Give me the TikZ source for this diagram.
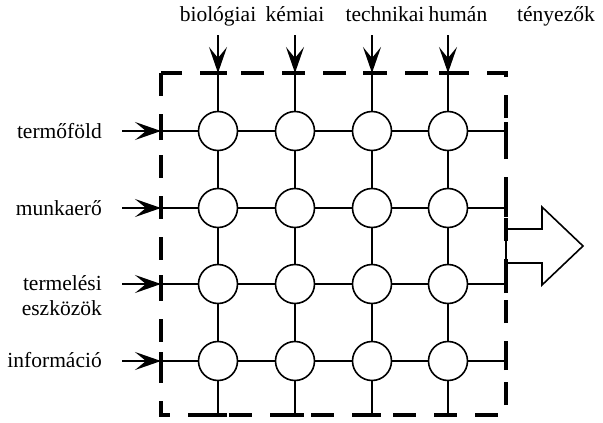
\documentclass[tikz,border=0pt]{standalone}
\usepackage{fontspec}
\setmainfont{Liberation Serif}
\usetikzlibrary{arrows.meta}
\begin{document}
\begin{tikzpicture}[x=1pt,y=-1pt,
  thin line/.style={line width=1.6pt},
  node circ/.style={circle,draw,line width=1.6pt,minimum size=39pt,inner sep=0pt},
  in arrow/.style={line width=1.8pt,-{Stealth[length=26pt,width=18pt,inset=11pt]}},
  frame/.style={line width=4pt,dash pattern=on 23pt off 18pt},
  tick/.style={line width=4pt},
  lbl/.style={font=\fontsize{21.5}{25}\selectfont,inner sep=0pt}]
\useasboundingbox (0,0) rectangle (603,423);
% grid coordinates
\foreach \c/\x in {1/218,2/295,3/372,4/448}{
  \coordinate (t\c) at (\x,73);
  \coordinate (b\c) at (\x,415);
  \coordinate (a\c) at (\x,35);
}
\foreach \r/\y in {1/131,2/208,3/284,4/361}{
  \coordinate (l\r) at (161,\y);
  \coordinate (r\r) at (506,\y);
  \coordinate (s\r) at (122,\y);
}
% circles
\foreach \r/\y in {1/131,2/208,3/284,4/361}{
  \foreach \c/\x in {1/218,2/295,3/372,4/448}{
    \node[node circ] (c\r\c) at (\x,\y) {};
  }
}
% vertical lines
\foreach \c in {1,2,3,4}{
  \draw[thin line] (t\c) -- (c1\c) (c1\c) -- (c2\c) (c2\c) -- (c3\c) (c3\c) -- (c4\c) (c4\c) -- (b\c);
}
% horizontal lines
\foreach \r in {1,2,3,4}{
  \draw[thin line] (l\r) -- (c\r1) (c\r1) -- (c\r2) (c\r2) -- (c\r3) (c\r3) -- (c\r4) (c\r4) -- (r\r);
}
% big output arrow
\coordinate (o1) at (506,229);
\coordinate (o2) at (542,229);
\coordinate (o3) at (542,207);
\coordinate (o4) at (583,246);
\coordinate (o5) at (542,285);
\coordinate (o6) at (542,263);
\coordinate (o7) at (506,263);
\draw[thin line,line join=miter] (o1) -- (o2) -- (o3) -- (o4) -- (o5) -- (o6) -- (o7) -- cycle;
% dashed frame
\coordinate (f1) at (161,73);
\coordinate (f2) at (506,415);
\draw[frame] (f1) rectangle (f2);
% ticks
\foreach \c/\x in {1/218,2/295,3/372,4/448}{
  \draw[tick] ([xshift=-9pt]t\c) -- ([xshift=9pt]t\c);
  \draw[tick] ([xshift=-9pt]b\c) -- ([xshift=9pt]b\c);
}
\foreach \r in {1,2,3,4}{
  \draw[tick] ([yshift=-9pt]l\r) -- ([yshift=9pt]l\r);
  \draw[tick] ([yshift=-9pt]r\r) -- ([yshift=9pt]r\r);
}
% input arrows
\foreach \c in {1,2,3,4}{ \draw[in arrow] (a\c) -- (t\c); }
\foreach \r in {1,2,3,4}{ \draw[in arrow] (s\r) -- (l\r); }
% top labels
\node[lbl,anchor=base] (h1) at (218,21) {biológiai};
\node[lbl,anchor=base] (h2) at (295,21) {kémiai};
\node[lbl,anchor=base] (h3) at (385,21) {technikai};
\node[lbl,anchor=base] (h4) at (458,21) {humán};
\node[lbl,anchor=base] (h5) at (556,21) {tényezők};
% left labels
\node[lbl,anchor=base east] (v1) at (102,138) {termőföld};
\node[lbl,anchor=base east] (v2) at (102,215) {munkaerő};
\node[lbl,anchor=base east] (v3) at (102,290) {termelési};
\node[lbl,anchor=base east] (v3b) at (102,315) {eszközök};
\node[lbl,anchor=base east] (v4) at (102,367) {információ};
\end{tikzpicture}
\end{document}
